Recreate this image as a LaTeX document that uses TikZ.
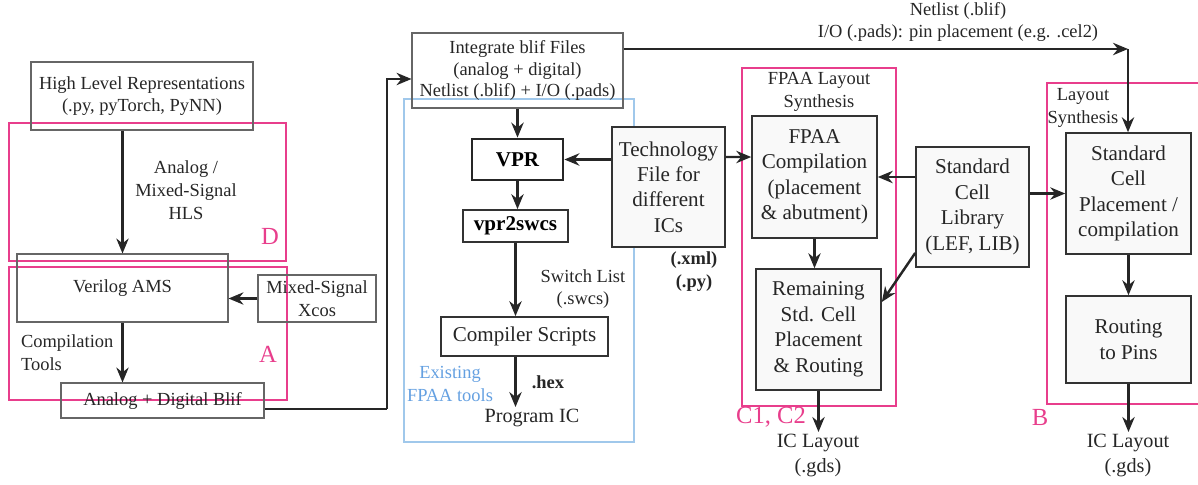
\documentclass[tikz,border=0pt]{standalone}
\usepackage{fontspec}
\setmainfont{Liberation Serif}
\usetikzlibrary{positioning}
\usetikzlibrary{arrows.meta}
\definecolor{rose}{RGB}{232, 62, 140}
\definecolor{sky}{RGB}{160, 200, 235}
\definecolor{skytext}{RGB}{100, 160, 225}
\definecolor{pale}{RGB}{249, 249, 249}

\begin{document}
\begin{tikzpicture}[x=0.02cm,y=-0.02cm,
  small/.style={font=\fontsize{10.5}{12.5}\selectfont},
  mid/.style={font=\fontsize{10.5}{13}\selectfont},
  big/.style={font=\fontsize{12}{14.5}\selectfont},
  lbox/.style={draw=black!60, line width=0.6pt, align=center, inner sep=1pt, text=black!85},
  rbox/.style={draw=black!80, line width=0.9pt, fill=pale, align=center, inner sep=1pt, big, text=black!85},
  zone/.style={draw=rose, line width=0.8pt},
  arr/.style={-{Stealth[length=8.5pt,width=7pt]}, line width=1.4pt, black!85},
  txt/.style={align=center, inner sep=1pt, text=black!85}]
\useasboundingbox (0,0) rectangle (1198,484);

% groups
\draw[zone] (9,123) rectangle (286,261);
\draw[zone] (9,267) rectangle (287,400);
\draw[sky, line width=0.7pt] (404,99) rectangle (634,442);
\draw[zone] (742,68) rectangle (896,406);
\draw[zone] (1047,83) rectangle (1204,404);

% left column
\node[lbox, small, minimum width=4.44cm, minimum height=1.36cm] (hlr) at (142,96) {High Level Representations\\(.py, pyTorch, PyNN)};
\node[lbox, mid, minimum width=4.22cm, minimum height=1.36cm] (vams) at (122.5,288) {Verilog AMS};
\node[lbox, mid, minimum width=2.36cm, minimum height=0.94cm] (xcos) at (317,298.5) {Mixed-Signal\\Xcos};
\node[lbox, mid, minimum width=4.06cm, minimum height=0.70cm] (blif) at (162.5,400.5) {Analog + Digital Blif};

\node[txt, mid] (hls) at (186,190) {Analog /\\Mixed-Signal\\HLS};
\node[txt, mid, align=left, anchor=west] (ctools) at (19,353) {Compilation\\Tools};
\node[txt, rose, font=\fontsize{14}{16}\selectfont] (labd) at (270,236) {D};
\node[txt, rose, font=\fontsize{14}{16}\selectfont] (laba) at (268,354) {A};

% FPAA tool flow
\node[lbox, small, minimum width=4.22cm, minimum height=1.5cm] (integ) at (517.5,70.5) {Integrate blif Files\\(analog + digital)\\Netlist (.blif) + I/O (.pads)};
\node[draw=black!85, line width=1.6pt, font=\fontsize{12}{14.5}\bfseries, minimum width=1.82cm, minimum height=0.82cm] (vpr) at (517.5,159.5) {VPR};
\node[draw=black!80, line width=1pt, font=\fontsize{12}{14.5}\bfseries, minimum width=2.1cm, minimum height=0.64cm] (v2s) at (515.5,226) {vpr2swcs};
\node[draw=black!80, line width=1pt, big, text=black!85, minimum width=3.34cm, minimum height=0.78cm] (comp) at (524.5,336.5) {Compiler Scripts};
\node[rbox, minimum width=2.26cm, minimum height=2.4cm] (tech) at (668.5,187) {Technology\\File for\\different\\ICs};

\node[txt, mid] (swl) at (583,289) {Switch List\\(.swcs)};
\node[txt, font=\fontsize{10.5}{13}\bfseries] (hex) at (548,382) {.hex};
\node[txt, font=\fontsize{11.5}{14}\selectfont] (prog) at (532,418) {Program IC};
\node[txt, mid, text=skytext] (exist) at (450,384) {Existing\\FPAA tools};
\node[txt, font=\fontsize{10.5}{13}\bfseries] (xml) at (694,272) {(.xml)\\(.py)};

% layout synthesis
\node[txt, small] (netl) at (958,22) {Netlist (.blif)\\I/O (.pads): pin placement (e.g. .cel2)};
\node[txt, mid] (fpaalbl) at (819,92) {FPAA Layout\\Synthesis};
\node[rbox, minimum width=2.5cm, minimum height=2.44cm] (fpaa) at (814.5,177) {FPAA\\Compilation\\(placement\\\& abutment)};
\node[rbox, minimum width=2.5cm, minimum height=2.42cm] (rem) at (818.5,329.5) {Remaining\\Std. Cell\\Placement\\\& Routing};
\node[rbox, minimum width=2.26cm, minimum height=2.4cm] (lib) at (972.5,207) {Standard\\Cell\\Library\\(LEF, LIB)};
\node[txt, mid] (laylbl) at (1083,108) {Layout\\Synthesis};
\node[rbox, minimum width=2.5cm, minimum height=2.42cm] (scp) at (1128.5,193.5) {Standard\\Cell\\Placement /\\compilation};
\node[rbox, minimum width=2.5cm, minimum height=1.74cm] (rout) at (1128.5,339.5) {Routing\\to Pins};
\node[txt, font=\fontsize{11.5}{14}\selectfont, anchor=north] (icl1) at (818,432) {IC Layout\\(.gds)};
\node[txt, font=\fontsize{11.5}{14}\selectfont, anchor=north] (icl2) at (1128,432) {IC Layout\\(.gds)};
\node[txt, text=rose, font=\fontsize{14}{16}\selectfont] (labc) at (771,417) {C1, C2};
\node[txt, text=rose, font=\fontsize{14}{16}\selectfont] (labb) at (1040,417) {B};

\coordinate (up1) at (387,409);
\coordinate (up2) at (387,79);
\coordinate (nr) at (1128,49);

% connectors
\draw[arr] (vams.north |- hlr.south) -- (vams.north);
\draw[arr] (xcos.west) -- (vams.east |- xcos.west);
\draw[arr] (vams.south) -- (vams.south |- blif.north);
\draw[line width=1.4pt, black!85] (blif.east |- up1) -- (up1);
\draw[arr] (up1) -- (up2) -- (integ.west |- up2);
\draw[arr] (integ.south) -- (vpr.north);
\draw[arr] (vpr.south) -- (vpr.south |- v2s.north);
\draw[arr] (v2s.south) -- (v2s.south |- comp.north);
\draw[arr] (v2s.south |- comp.south) -- (v2s.south |- prog.north);
\draw[arr] (tech.west |- vpr.east) -- (vpr.east);
\draw[arr] ([yshift=0.6cm]tech.east) -- ([yshift=0.4cm]fpaa.west);
\draw[arr] (integ.east |- nr) -- (nr);
\draw[arr] (nr) -- (scp.north -| nr);
\draw[arr] (lib.west |- fpaa.east) -- (fpaa.east);
\draw[arr] ([yshift=-0.92cm]lib.west) -- ([yshift=0.55cm]rem.east);
\draw[arr] (lib.east |- scp.west) -- (scp.west);
\draw[arr] (fpaa.south) -- (fpaa.south |- rem.north);
\draw[arr] (rem.south) -- (rem.south |- icl1.north);
\draw[arr] (scp.south) -- (rout.north);
\draw[arr] (rout.south) -- (rout.south |- icl2.north);

\end{tikzpicture}
\end{document}
